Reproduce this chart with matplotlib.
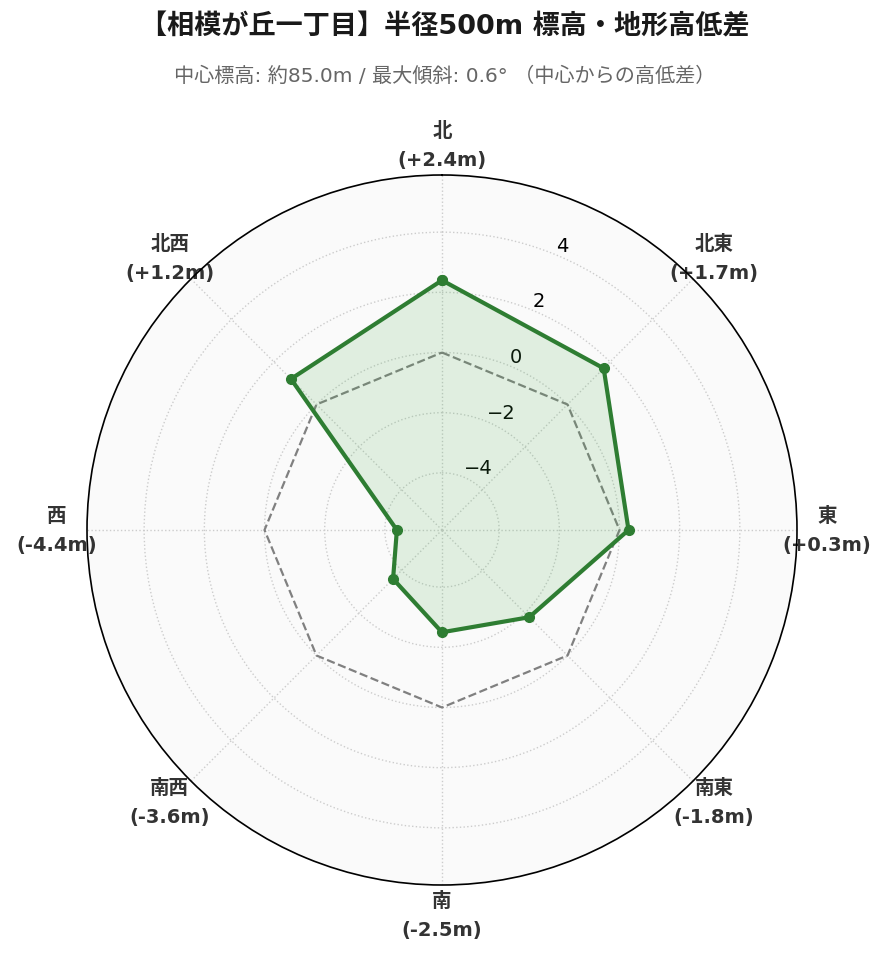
import numpy as np
import matplotlib
matplotlib.use("Agg")
import matplotlib.pyplot as plt

plt.rcParams['font.family'] = ['DejaVu Sans', 'Noto Sans CJK JP']

directions = ['北', '北東', '東', '南東', '南', '南西', '西', '北西']
diffs = [2.4, 1.7, 0.3, -1.8, -2.5, -3.6, -4.4, 1.2]
rticks = [-4, -2, 0, 2, 4]

n = len(directions)
angles = np.arange(n) * 2 * np.pi / n
ang_c = np.append(angles, angles[0])
val_c = np.append(diffs, diffs[0])

fig = plt.figure(figsize=(8.89, 9.62), dpi=100)
ax = fig.add_axes([87/889, 1-886/962, 710/889, 710/962], projection='polar')
ax.set_theta_zero_location('N')
ax.set_theta_direction(-1)
ax.set_facecolor('#fafafa')

lim = max(abs(v) for v in diffs) + 1.5
ax.set_ylim(-lim, lim)

ax.plot(ang_c, np.zeros_like(ang_c), '--', color='gray', lw=1.6, zorder=2)
ax.fill(ang_c, val_c, color='#4caf50', alpha=0.15, zorder=3)
ax.plot(ang_c, val_c, '-', color='#2e7d32', lw=3, marker='o', ms=7, zorder=4)

ax.set_xticks(angles)
ax.set_xticklabels([f"{d}\n({v:+.1f}m)" for d, v in zip(directions, diffs)],
                   fontsize=14, fontweight='bold', color='#333333', linespacing=1.65)
ax.tick_params(axis='x', pad=11)
ax.set_yticks(rticks)
ax.set_yticklabels([str(t).replace('-', '\u2212') for t in rticks], fontsize=14)
ax.set_rlabel_position(22.5)
ax.grid(True, color='#cccccc', linestyle=':', lw=1)
ax.spines['polar'].set_color('black')
ax.spines['polar'].set_linewidth(1.2)

fig.text(0.5, 1-27/962, '【相模が丘一丁目】半径500m 標高・地形高低差', ha='center', va='center',
         fontsize=19.5, fontweight='bold', color='#1a1a1a')
fig.text(0.5, 1-76/962, '中心標高: 約85.0m / 最大傾斜: 0.6° （中心からの高低差）', ha='center', va='center',
         fontsize=14.5, color='#666666')

fig.savefig('out.png', dpi=100, facecolor='white')
